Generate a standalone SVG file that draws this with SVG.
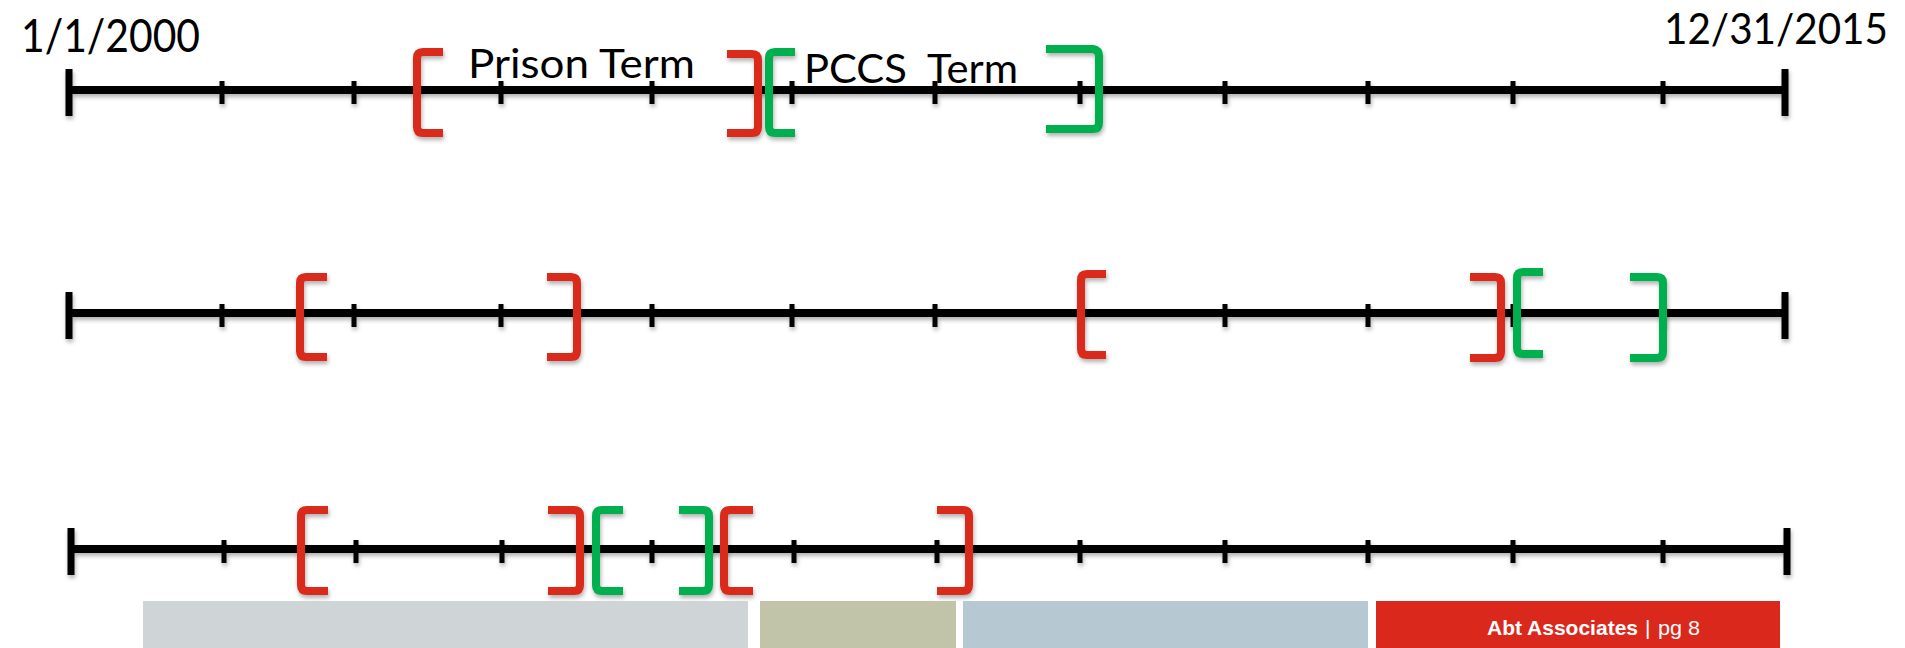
<svg xmlns="http://www.w3.org/2000/svg" width="1905" height="648" viewBox="0 0 1905 648">
<defs>
<filter id="sh" x="-10%" y="-20%" width="120%" height="160%">
<feDropShadow dx="1" dy="3" stdDeviation="2" flood-color="#000" flood-opacity="0.3"/>
</filter>
<style>
.axis{stroke:#000;stroke-width:8;fill:none}
.cap{stroke:#000;stroke-width:7}
.tick{stroke:#000;stroke-width:5}
.br{fill:none;stroke-width:8;stroke-linejoin:round;stroke-linecap:butt}
.red{stroke:#D9291F}
.green{stroke:#00B04F}
.lbl{font-family:Lato,"Open Sans",sans-serif;fill:#000}
.foot{font-family:"Liberation Sans",Arial,sans-serif;fill:#fff;font-size:21px}
</style>
</defs>
<rect width="1905" height="648" fill="#fff"/>

<g id="date-start"><text class="lbl" x="21" y="52" font-size="46" textLength="179" lengthAdjust="spacingAndGlyphs">1/1/2000</text></g>
<g id="date-end"><text class="lbl" x="1664" y="44" font-size="42" textLength="224" lengthAdjust="spacingAndGlyphs">12/31/2015</text></g>

<g id="timeline-1" filter="url(#sh)">
<line class="axis" x1="69" y1="90" x2="1785" y2="90"/>
<line class="cap" x1="69" y1="69" x2="69" y2="116"/>
<line class="cap" x1="1785" y1="69" x2="1785" y2="116"/>
<path class="tick" d="M222 81V104M354 81V104M501 81V104M652 81V104M792 81V104M935 81V104M1080 81V104M1225 81V104M1368 81V104M1513 81V104M1663 81V104"/>
</g>
<g id="timeline-2" filter="url(#sh)">
<line class="axis" x1="69" y1="313" x2="1785" y2="313"/>
<line class="cap" x1="69" y1="292" x2="69" y2="339"/>
<line class="cap" x1="1785" y1="292" x2="1785" y2="339"/>
<path class="tick" d="M222 304V327M354 304V327M501 304V327M652 304V327M792 304V327M935 304V327M1080 304V327M1225 304V327M1368 304V327M1513 304V327M1663 304V327"/>
</g>
<g id="timeline-3" filter="url(#sh)">
<line class="axis" x1="71" y1="549" x2="1787" y2="549"/>
<line class="cap" x1="71" y1="528" x2="71" y2="575"/>
<line class="cap" x1="1787" y1="528" x2="1787" y2="575"/>
<path class="tick" d="M224 540V563M356 540V563M502 540V563M652 540V563M794 540V563M937 540V563M1080 540V563M1225 540V563M1368 540V563M1513 540V563M1663 540V563"/>
</g>

<g id="row1-prison" filter="url(#sh)">
<path class="br red" d="M443 52H423Q417 52 417 58V127Q417 133 423 133H443"/>
<path class="br red" d="M727 54H752Q758 54 758 60V127Q758 133 752 133H727"/>
</g>
<g id="row1-pccs" filter="url(#sh)">
<path class="br green" d="M795 52H775Q769 52 769 58V127Q769 133 775 133H795"/>
<path class="br green" d="M1046 49H1093Q1099 50 1099 56V123Q1099 129 1093 129H1046"/>
</g>
<g id="label-prison"><text class="lbl" x="468" y="78" font-size="40" textLength="227" lengthAdjust="spacingAndGlyphs">Prison Term</text></g>
<g id="label-pccs"><text class="lbl" x="804" y="83" font-size="40" textLength="214" lengthAdjust="spacingAndGlyphs" xml:space="preserve">PCCS  Term</text></g>

<g id="row2-prison-1" filter="url(#sh)">
<path class="br red" d="M327 277H306Q300 277 300 283V351Q300 357 306 357H327"/>
<path class="br red" d="M547 277H571Q577 277 577 283V351Q577 357 571 357H547"/>
</g>
<g id="row2-prison-2" filter="url(#sh)">
<path class="br red" d="M1106 274H1087Q1081 274 1081 280V349Q1081 355 1087 355H1106"/>
<path class="br red" d="M1470 277H1495Q1501 277 1501 283V352Q1501 358 1495 358H1470"/>
</g>
<g id="row2-pccs" filter="url(#sh)">
<path class="br green" d="M1543 272H1523Q1517 272 1517 278V348Q1517 354 1523 354H1543"/>
<path class="br green" d="M1630 277H1657Q1663 277 1663 283V352Q1663 358 1657 358H1630"/>
</g>

<g id="row3-prison-1" filter="url(#sh)">
<path class="br red" d="M328 510H307Q301 510 301 516V585Q301 591 307 591H328"/>
<path class="br red" d="M548 510H574Q580 510 580 516V585Q580 591 574 591H548"/>
</g>
<g id="row3-pccs" filter="url(#sh)">
<path class="br green" d="M623 510H602Q596 510 596 516V585Q596 591 602 591H623"/>
<path class="br green" d="M679 510H703Q709 510 709 516V585Q709 591 703 591H679"/>
</g>
<g id="row3-prison-2" filter="url(#sh)">
<path class="br red" d="M753 510H730Q724 510 724 516V585Q724 591 730 591H753"/>
<path class="br red" d="M937 510H963Q969 510 969 516V585Q969 591 963 591H937"/>
</g>

<g id="footer">
<rect x="143" y="601" width="605" height="47" fill="#CFD4D6"/>
<rect x="760" y="601" width="196" height="47" fill="#C1C4A8"/>
<rect x="963" y="601" width="405" height="47" fill="#B6C9D2"/>
<rect x="1376" y="601" width="404" height="47" fill="#DA291C"/>
<text class="foot" y="635"><tspan x="1487" font-weight="bold" textLength="151" lengthAdjust="spacingAndGlyphs">Abt Associates</tspan><tspan x="1645">|</tspan><tspan x="1658" textLength="42" lengthAdjust="spacingAndGlyphs">pg 8</tspan></text>
</g>
</svg>
